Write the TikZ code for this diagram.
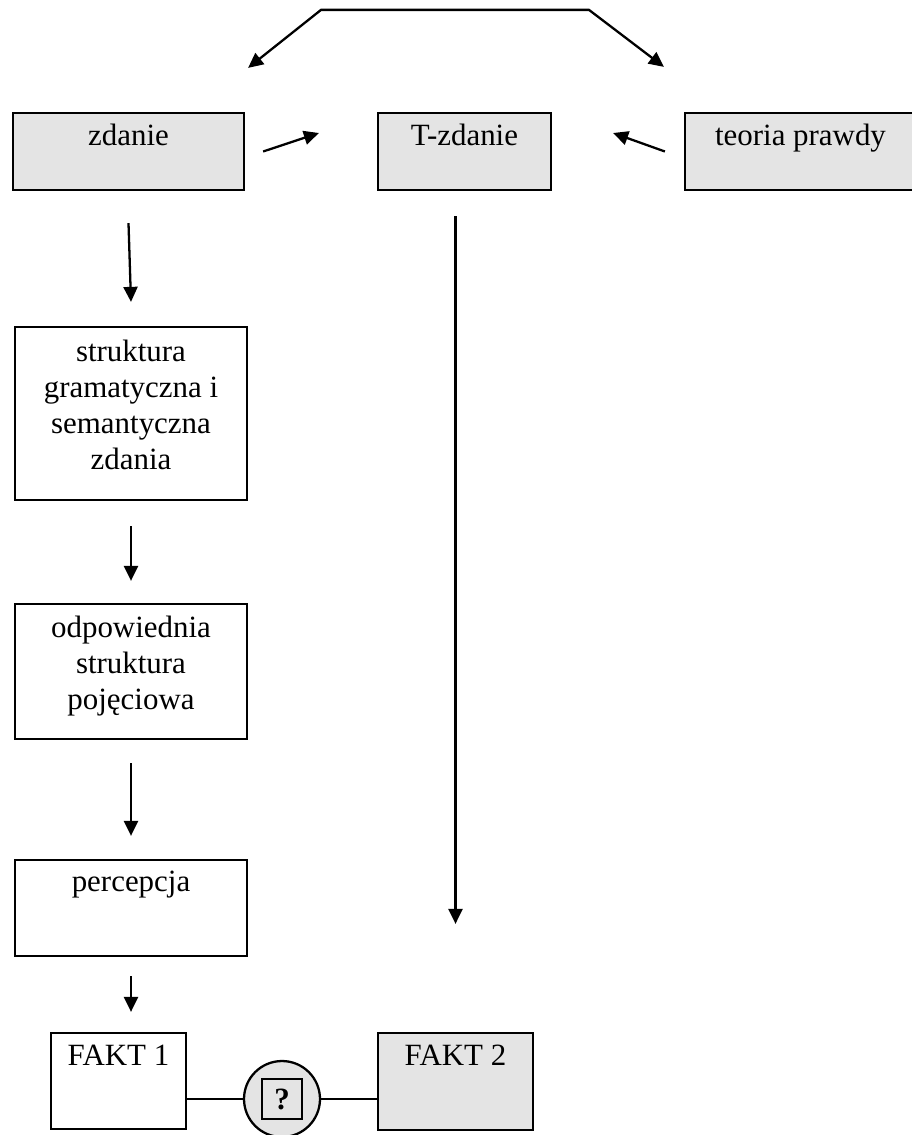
\documentclass[tikz,border=0pt]{standalone}
\usepackage{fontspec}
\setmainfont{Liberation Serif}
\usetikzlibrary{arrows.meta}
\definecolor{boxgray}{HTML}{E4E4E4}
\tikzset{
	box/.style={draw, line width=1.3pt, inner sep=0pt},
	greybox/.style={box, fill=boxgray},
	txt/.style={anchor=base, inner sep=0pt, font=\fontsize{17.6}{20.5}\selectfont},
	txtm/.style={anchor=north, inner sep=0pt, align=center, font=\fontsize{17.6}{20.5}\selectfont},
	arr/.style={line width=1.3pt, -{Triangle[length=0.3cm,width=0.28cm]}},
	arrboth/.style={line width=1.3pt, {Triangle[length=0.3cm,width=0.28cm]}-{Triangle[length=0.3cm,width=0.28cm]}},
	link/.style={line width=1.3pt}
}

\begin{document}
\begin{tikzpicture}[x=0.02cm, y=-0.02cm]
	\useasboundingbox (0,0) rectangle (912,1135);
	
	% top row
	\node[greybox, minimum width=4.62cm, minimum height=1.54cm] (zdanie) at (128.5,151.5){};
	\node[greybox, minimum width=3.46cm, minimum height=1.54cm] (tzdanie) at (464.5,151.5){};
	\node[greybox, minimum width=4.62cm, minimum height=1.54cm] (teoria) at (800.5,151.5){};
	\node[txt] (zdanie-t) at ([yshift=-0.68cm]zdanie.north){zdanie};
	\node[txt] (tzdanie-t) at ([yshift=-0.68cm]tzdanie.north){T-zdanie};
	\node[txt] (teoria-t) at ([yshift=-0.68cm]teoria.north){teoria prawdy};
	
	% left column
	\node[box, minimum width=4.64cm, minimum height=3.46cm] (struktura) at (131,413.5){};
	\node[txtm] (struktura-t) at ([yshift=-0.27cm]struktura.north){struktura\\gramatyczna i\\semantyczna\\zdania};
	\node[box, minimum width=4.64cm, minimum height=2.7cm] (pojecia) at (131,671.5){};
	\node[txtm] (pojecia-t) at ([yshift=-0.26cm]pojecia.north){odpowiednia\\struktura\\pojęciowa};
	\node[box, minimum width=4.64cm, minimum height=1.92cm] (percepcja) at (131,908){};
	\node[txt] (percepcja-t) at ([yshift=-0.66cm]percepcja.north){percepcja};
	
	% facts
	\node[box, minimum width=2.7cm, minimum height=1.92cm] (fakt1) at (118.5,1081){};
	\node[txt] (fakt1-t) at ([yshift=-0.68cm]fakt1.north){FAKT 1};
	\node[greybox, minimum width=3.1cm, minimum height=1.94cm] (fakt2) at (455.5,1081.5){};
	\node[txt] (fakt2-t) at ([yshift=-0.68cm]fakt2.north){FAKT 2};
	\node[greybox, circle, minimum size=1.52cm] (q) at (282,1099){};
	\node[greybox, minimum size=0.79cm, font=\fontsize{17.6}{20.5}\selectfont\bfseries] (qbox) at (q){?};
	
	% arrows
	\coordinate (topl) at ([xshift=-2.87cm, yshift=2.04cm]tzdanie.north);
	\coordinate (topr) at ([xshift=2.49cm, yshift=2.04cm]tzdanie.north);
	\draw[arrboth] ([xshift=0.06cm, yshift=0.88cm]zdanie.north east) -- (topl) -- (topr) -- ([xshift=-0.4cm, yshift=0.9cm]teoria.north west);
	
	\draw[arr] ([xshift=0.36cm]zdanie.east) -- ([xshift=-1.16cm, yshift=0.37cm]tzdanie.west);
	\draw[arr] ([xshift=-0.38cm]teoria.west) -- ([xshift=1.22cm, yshift=0.37cm]tzdanie.east);
	
	\draw[arr] ([yshift=-0.64cm]zdanie.south) -- ([yshift=0.48cm]struktura.north);
	\draw[arr] ([yshift=-0.5cm]struktura.south) -- ([yshift=0.44cm]pojecia.north);
	\draw[arr] ([yshift=-0.46cm]pojecia.south) -- ([yshift=0.46cm]percepcja.north);
	\draw[arr] ([yshift=-0.38cm]percepcja.south) -- ([yshift=0.4cm]percepcja.south |- fakt1.north);
	
	\draw[arr] ([yshift=-0.5cm]tzdanie.south -| fakt2.north) -- ([yshift=2.16cm]fakt2.north);
	
	%\draw[link] (fakt1) -- (fakt2);
	\draw[link] (fakt1.east |- q.west) -- (q.west);
	\draw[link] (q.east) -- (fakt2.west |- q.east);
\end{tikzpicture}
\end{document}
